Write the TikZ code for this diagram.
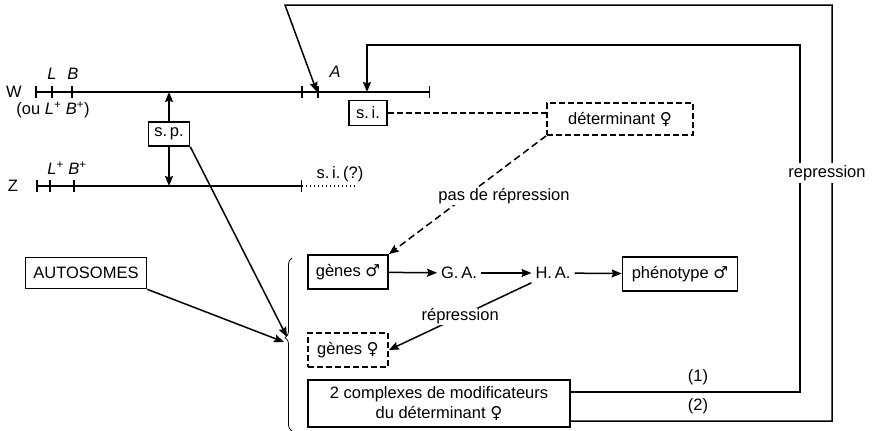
\documentclass[tikz,border=0pt]{standalone}
\usepackage{fontspec}
\setmainfont{Liberation Sans}
\newfontfamily\symfont{DejaVu Sans}
\usetikzlibrary{arrows.meta, decorations.pathreplacing}
\tikzset{>={Stealth[length=10pt, width=8pt, inset=1.5pt]}}
\newcommand{\msym}{{\symfont\char"2642}}
\newcommand{\fsym}{{\symfont\char"2640}}

\begin{document}
\begin{tikzpicture}[x=1pt, y=-1pt, line width=1.5pt,
    font=\fontsize{16.5}{20}\selectfont,
    box/.style={draw, line width=1.7pt, inner sep=0pt},
    dbox/.style={box, dash pattern=on 6pt off 3pt},
    bars/.style={{Bar[width=12pt]}-{Bar[width=12pt]}}]
    \useasboundingbox (0,0) rectangle (873,431);
    \coordinate (W0) at (35,92);  \coordinate (W1) at (430,92);
    \coordinate (Z0) at (36,186); \coordinate (Z1) at (302,186);
    \coordinate (WA) at (317,92); \coordinate (Wsi) at (367,92);
    \coordinate (bra) at (284,342); \coordinate (brb) at (287,337);
    \draw[bars] (W0) -- (W1);
    \draw[bars] (Z0) -- (Z1);
    \draw[line width=1.4pt, dash pattern=on 1.4pt off 2.6pt] (Z1) -- ++(53,0);
    \foreach \x in {52,72,302,318} \draw (\x,86) -- (\x,98);
    \foreach \x in {50,74} \draw (\x,180) -- (\x,192);
    \node (w) at (14,92) {W};
    \node (z) at (13,186) {Z};
    \node (l) at (52,74) {\textit{L}};
    \node (b) at (73,74) {\textit{B}};
    \node (a) at (335,72) {\textit{A}};
    \node (ou) at (53,110) {(ou \textit{L}\textsuperscript{+} \textit{B}\textsuperscript{+})};
    \node (lbz) at (67,168) {\textit{L}\textsuperscript{+} \textit{B}\textsuperscript{+}};
    \node (siz) at (340,174) {s.\,i.\,(?)};
    \node[box, minimum width=41pt, minimum height=24pt] (sp) at (169,134) {s.\,p.};
    \node[box, minimum width=38pt, minimum height=25pt] (si) at (368,113) {s.\,i.};
    \node[dbox, minimum width=146pt, minimum height=32pt] (det) at (620,119) {déterminant \fsym};
    \node[box, minimum width=121pt, minimum height=31pt] (auto) at (86,273) {AUTOSOMES};
    \node[box, minimum width=80pt, minimum height=34pt] (gm) at (348,272) {gènes \msym};
    \node[dbox, minimum width=80pt, minimum height=34pt] (gf) at (348,350) {gènes \fsym};
    \node (ga) at (459,273) {G.\,A.};
    \node (ha) at (553,273) {H.\,A.};
    \node[box, minimum width=115pt, minimum height=34pt] (phen) at (680,274) {phénotype \msym};
    \node[box, minimum width=262pt, minimum height=47pt, align=center] (mod) at (439,403.5)
        {2 complexes de modificateurs\\du déterminant \fsym};
    \draw[->] (sp.north) -- (sp.north |- W0);
    \draw[->] (sp.south) -- (sp.south |- Z0);
    \draw[dash pattern=on 6pt off 3pt] (si.east) -- (si.east -| det.west);
    \draw[->, dash pattern=on 7pt off 4pt] (det.south west) -- (gm.north east);
    \node[fill=white, inner sep=1pt] (pas) at (504,196) {pas de répression};
    \draw[->] (gm) -- (ga);
    \draw[->] (ga) -- (ha);
    \draw[->] (ha) -- (phen);
    \draw[->] (ha.south west) -- node[fill=white, inner sep=1pt] (rep) {répression} (gf.east);
    \draw[->] (auto.south east) -- (bra);
    \draw[->] (sp.south east) -- (brb);
    \draw[decorate, decoration={brace, amplitude=7pt, aspect=0.54}, line width=0.8pt]
        (292,431) -- (292,258);
    \draw[->] ([yshift=11.5pt]mod.east) -| (800,45) -| (Wsi);
    \draw[->] ([yshift=-17.5pt]mod.east) -| (832,5) -- (285,5) -- (WA);
    \node (one) at (698,377) {(1)};
    \node (two) at (698,406) {(2)};
    \node[fill=white, inner sep=2pt] (rp) at (827,173) {repression};
\end{tikzpicture}
\end{document}
